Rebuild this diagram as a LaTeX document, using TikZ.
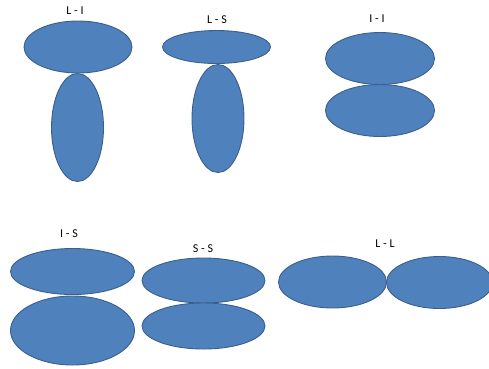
\documentclass[tikz,border=0pt]{standalone}
\usepackage{fontspec}
\setmainfont{Carlito}
\usetikzlibrary{shapes.geometric}
\definecolor{lobefill}{HTML}{4F81BD}
\definecolor{lobeline}{HTML}{3A5F8D}
\tikzset{
  lobe/.style={ellipse, fill=lobefill, draw=lobeline, line width=0.9pt, inner sep=0pt},
  lbl/.style={font=\fontsize{12}{14}\selectfont, inner sep=0pt, anchor=center}
}
\begin{document}
\begin{tikzpicture}[x=1pt,y=-1pt]
\useasboundingbox (0,0) rectangle (489,368);
\clip (0,0) rectangle (489,368);
% L - I
\node[lbl] (tLI) at (75,11) {L - I};
\node[lobe, minimum width=108pt, minimum height=52pt] (LI1) at (78,47) {};
\node[lobe, minimum width=52pt, minimum height=108pt] (LI2) at (77.5,127.5) {};
% L - S
\node[lbl] (tLS) at (217,20) {L - S};
\node[lobe, minimum width=108pt, minimum height=33pt] (LS1) at (216.5,47) {};
\node[lobe, minimum width=52pt, minimum height=108pt] (LS2) at (218,118.5) {};
% I - I
\node[lbl] (tII) at (377,19) {I - I};
\node[lobe, minimum width=109pt, minimum height=52pt] (II1) at (380,58.5) {};
\node[lobe, minimum width=109pt, minimum height=52pt] (II2) at (380,110.5) {};
% I - S
\node[lbl] (tIS) at (69,234) {I - S};
\node[lobe, minimum width=124pt, minimum height=46pt] (IS1) at (72.5,271.5) {};
\node[lobe, minimum width=124pt, minimum height=69pt] (IS2) at (72.5,330.5) {};
% S - S
\node[lbl] (tSS) at (203,248.5) {S - S};
\node[lobe, minimum width=123pt, minimum height=45pt] (SS1) at (203.5,280.5) {};
\node[lobe, minimum width=123pt, minimum height=46pt] (SS2) at (203.5,326) {};
% L - L
\node[lbl] (tLL) at (385,244) {L - L};
\node[lobe, minimum width=108pt, minimum height=52pt] (LL1) at (332.5,282) {};
\node[lobe, minimum width=106pt, minimum height=52pt] (LL2) at (439.5,282.5) {};
\end{tikzpicture}
\end{document}
